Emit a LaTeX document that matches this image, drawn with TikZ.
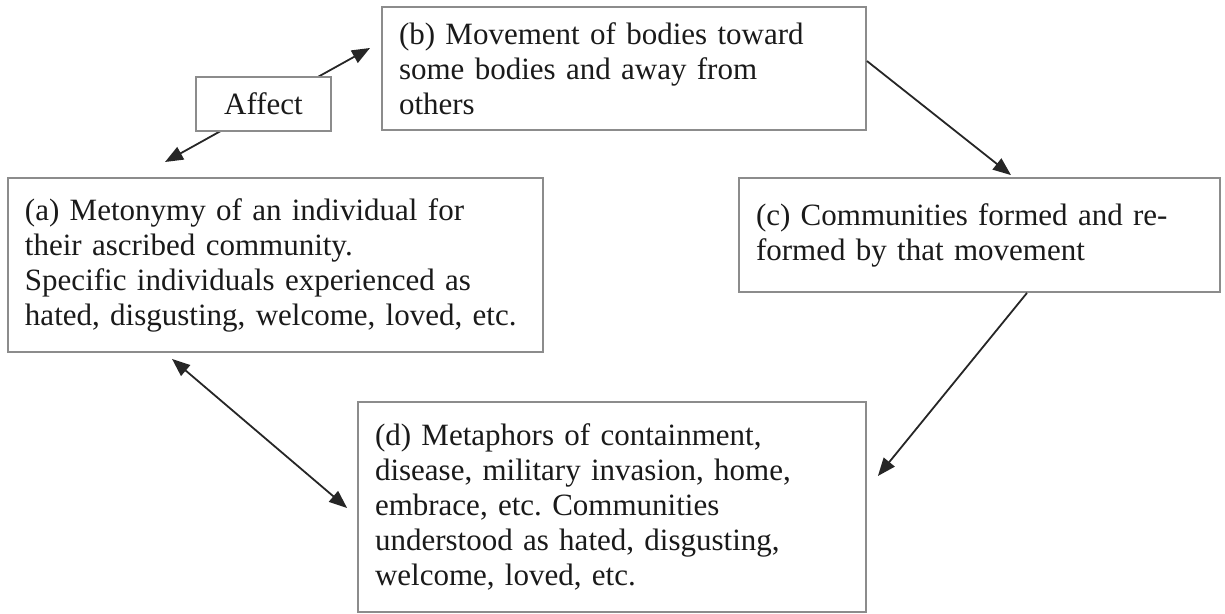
\documentclass[tikz,border=0pt]{standalone}
\usepackage{fontspec}
\setmainfont{Liberation Serif}
\usetikzlibrary{arrows.meta}
\definecolor{boxgray}{HTML}{8C8C8C}
\definecolor{arrowgray}{HTML}{262626}
\definecolor{textblack}{HTML}{1A1A1A}
\begin{document}
\frenchspacing
\begin{tikzpicture}[x=0.5pt,y=-0.5pt,
  textbox/.style={draw=boxgray, line width=0.9pt, fill=white, text=textblack,
    inner xsep=8.5pt, inner ysep=0pt, align=left,
    font=\fontsize{15.5}{17.5}\selectfont\frenchspacing},
  conn/.style={draw=arrowgray, line width=0.9pt},
  tipb/.style={-{Triangle[length=9pt,width=7pt]}},
  tipbb/.style={{Triangle[length=9pt,width=7pt]}-{Triangle[length=9pt,width=7pt]}}
]
\useasboundingbox (0,0) rectangle (1225,614);

% Affect connector (passes behind the Affect box)
\coordinate (affL) at (165,162);
\coordinate (affR) at (370,48);
\draw[conn,tipbb] (affL) -- (affR);

\node[textbox, text width=250.5pt, minimum height=87pt] (a) at (275.5,265)
  {(a) Metonymy of an individual for\\their ascribed community.\\Specific individuals experienced as\\hated, disgusting, welcome, loved, etc.};

\node[textbox, inner xsep=0pt, align=center, minimum width=67.5pt, minimum height=27pt] (affect) at (263.5,104) {Affect};

\node[textbox, text width=225pt, minimum height=61.5pt] (b) at (624,68.5)
  {(b) Movement of bodies toward\\some bodies and away from\\others};

\node[textbox, text width=223.5pt, minimum height=57pt] (c) at (979.5,235)
  {(c) Communities formed and re-\\formed by that movement};

\node[textbox, text width=237pt, minimum height=105pt] (d) at (612,507)
  {(d) Metaphors of containment,\\disease, military invasion, home,\\embrace, etc. Communities\\understood as hated, disgusting,\\welcome, loved, etc.};

\draw[conn,tipb] ([yshift=3.75pt]b.east) -- ([xshift=15.75pt,yshift=1pt]c.north);
\draw[conn,tipb] ([xshift=23.75pt]c.south) -- ([xshift=5.5pt,yshift=15.5pt]d.east);
\draw[conn,tipbb] ([xshift=-51.75pt,yshift=-3pt]a.south) -- ([xshift=-5pt,yshift=-0.5pt]d.west);
\end{tikzpicture}
\end{document}
